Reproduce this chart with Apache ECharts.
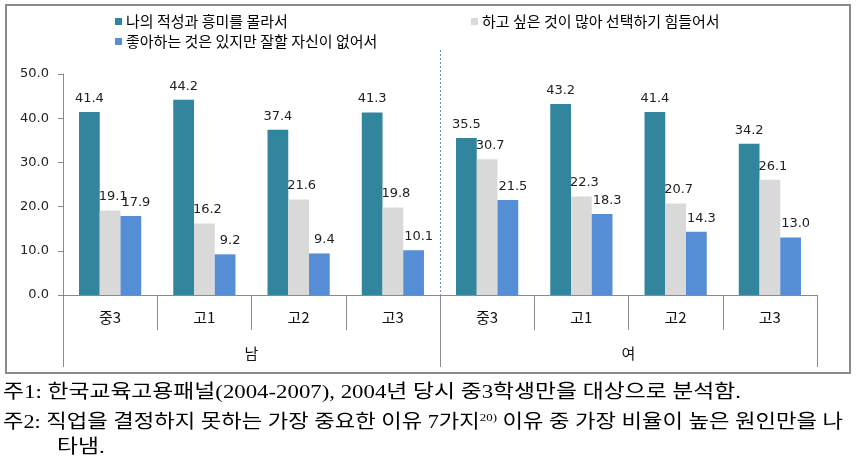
<!DOCTYPE html>
<html><head><meta charset="utf-8">
<script src="https://cdn.jsdelivr.net/npm/echarts@6/dist/echarts.min.js"></script>
<style>html,body{margin:0;padding:0;background:#fff}#c{width:857px;height:463px}</style>
</head><body><div id="c"></div>
<script>
// ---- data ----
const categories = ['중3', '고1', '고2', '고3', '중3', '고1', '고2', '고3'];
const groups = ['남', '여'];
const seriesNames = ['나의 적성과 흥미를 몰라서', '하고 싶은 것이 많아 선택하기 힘들어서', '좋아하는 것은 있지만 잘할 자신이 없어서'];
const aptitude = [41.4, 44.2, 37.4, 41.3, 35.5, 43.2, 41.4, 34.2];
const tooMany = [19.1, 16.2, 21.6, 19.8, 30.7, 22.3, 20.7, 26.1];
const noConfidence = [17.9, 9.2, 9.4, 10.1, 21.5, 18.3, 14.3, 13.0];
const yMin = 0, yMax = 50, yStep = 10;
const note1 = '주1: 한국교육고용패널(2004-2007), 2004년 당시 중3학생만을 대상으로 분석함.';
const note2a = '주2: 직업을 결정하지 못하는 가장 중요한 이유 7가지';
const note2sup = '20)';
const note2b = ' 이유 중 가장 비율이 높은 원인만을 나';
const note3 = '타냄.';

// ---- chart ----
const chart = echarts.init(document.getElementById('c'), null, {renderer: 'canvas'});
const colors = ['#31859C', '#D9D9D9', '#558ED5'];
const labelFont = {fontFamily: '"DejaVu Sans", Verdana, sans-serif', fontSize: 13, color: '#222'};
const krFont = '"Noto Sans CJK KR", sans-serif';
const labelOffsets = [[0, 0], [3, 0], [5, 0]];

function mkSeries(i, data) {
  return {
    name: seriesNames[i], type: 'bar', data: data,
    barGap: '0%', barCategoryGap: '34%',
    itemStyle: {color: colors[i]},
    label: {show: true, position: 'top', distance: 7, offset: labelOffsets[i],
      formatter: p => p.value.toFixed(1), ...labelFont},
    animation: false
  };
}

const legendBase = {icon: 'rect', itemWidth: 7, itemHeight: 7, itemGap: 0,
  textStyle: {fontFamily: krFont, fontSize: 15, color: '#000', padding: [0, 0, 0, -1]}, selectedMode: false};

chart.setOption({
  animation: false,
  color: colors,
  legend: [
    {...legendBase, data: [seriesNames[0]], left: 110, top: 9},
    {...legendBase, data: [seriesNames[1]], left: 466, top: 9},
    {...legendBase, data: [seriesNames[2]], left: 110, top: 29}
  ],
  grid: {left: 63, right: 40, top: 74, bottom: 168},
  xAxis: [
    {type: 'category', data: categories, position: 'bottom',
      axisLine: {show: true, lineStyle: {color: '#8a8a8a'}},
      axisTick: {show: true, length: 35, lineStyle: {color: '#8a8a8a'}},
      axisLabel: {show: true, margin: 15, fontFamily: krFont, fontSize: 15, color: '#111'}},
    {type: 'category', data: groups, position: 'bottom',
      axisLine: {show: false},
      axisTick: {show: true, length: 72, lineStyle: {color: '#8a8a8a'}},
      axisLabel: {show: true, margin: 51, fontFamily: krFont, fontSize: 15, color: '#111'}}
  ],
  yAxis: {type: 'value', min: yMin, max: yMax, interval: yStep,
    axisLine: {show: true, lineStyle: {color: '#8a8a8a'}},
    axisTick: {show: true, length: 5, lineStyle: {color: '#8a8a8a'}},
    splitLine: {show: false},
    axisLabel: {margin: 14, formatter: v => v.toFixed(1), ...labelFont}},
  series: [mkSeries(0, aptitude), mkSeries(1, tooMany), mkSeries(2, noConfidence)]
});

// divider between groups, computed from axis
const x3 = chart.convertToPixel({xAxisIndex: 0}, 3);
const x4 = chart.convertToPixel({xAxisIndex: 0}, 4);
const xDiv = Math.round((x3 + x4) / 2) + 0.5;
const yBase = chart.convertToPixel({yAxisIndex: 0}, 0);

// footnote scaling
const serifFam = '"Liberation Serif", "DejaVu Serif", "Noto Sans CJK KR", serif';
const noteFont = '19px ' + serifFam;
const ctx = document.createElement('canvas').getContext('2d');
ctx.font = noteFont;
const w1 = ctx.measureText(note1).width;
const sx1 = 738 / w1;
const w2 = ctx.measureText(note2a + note2b).width;
ctx.font = '11px ' + serifFam;
const w2s = ctx.measureText(note2sup).width;
const sx2 = 840 / (w2 + w2s);

chart.setOption({
  graphic: [
    {type: 'rect', shape: {x: 6, y: 5, width: 844, height: 368}, style: {fill: 'none', stroke: '#8a8a8a', lineWidth: 2}, z: -1},
    {type: 'line', shape: {x1: xDiv, y1: 50, x2: xDiv, y2: yBase}, style: {stroke: '#6f8fb8', lineWidth: 1, lineDash: [2, 2]}},
    {type: 'text', x: 3, y: 393, scaleX: sx1, style: {text: note1, font: noteFont, fill: '#000', verticalAlign: 'middle'}},
    {type: 'text', x: 3, y: 423, scaleX: sx2, style: {
      text: '{a|' + note2a + '}{s|' + note2sup + '}{a|' + note2b + '}',
      verticalAlign: 'middle',
      rich: {a: {fontSize: 19, fontFamily: serifFam, fill: '#000'},
             s: {fontSize: 11, fontFamily: serifFam, fill: '#000', verticalAlign: 'top', padding: [0, 0, 9, 0]}}
    }},
    {type: 'text', x: 57, y: 448, scaleX: sx1, style: {text: note3, font: noteFont, fill: '#000', verticalAlign: 'middle'}}
  ]
});
</script></body></html>
